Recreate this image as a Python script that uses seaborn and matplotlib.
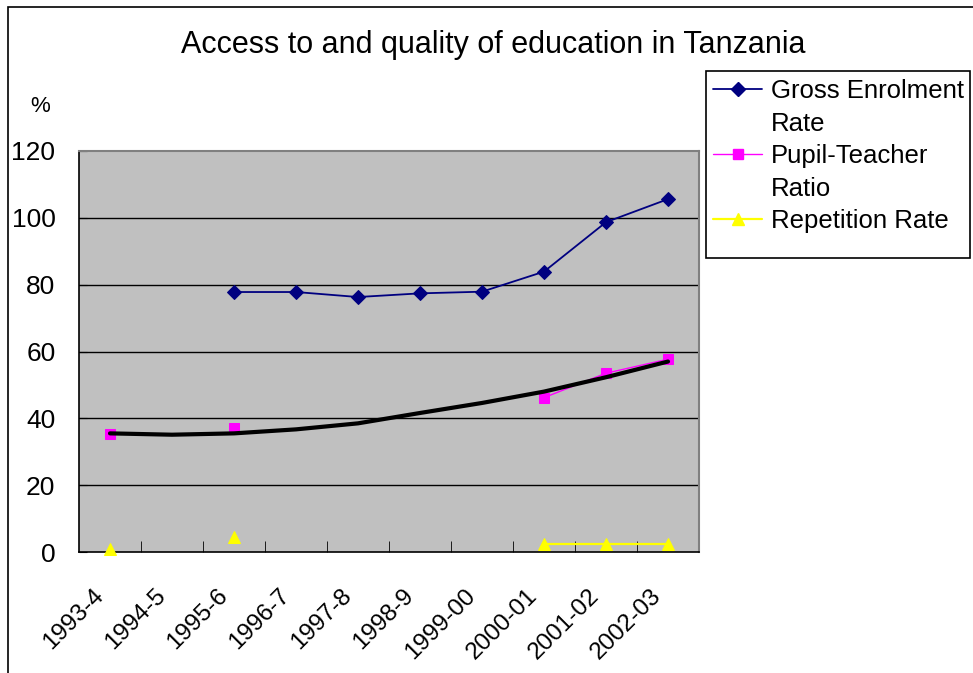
import numpy as np
import pandas as pd
import matplotlib
matplotlib.use("Agg")
import matplotlib.pyplot as plt
import matplotlib.transforms as mtransforms
from matplotlib.lines import Line2D
from matplotlib.patches import Rectangle
import seaborn as sns

# data
categories = ['1993-4', '1994-5', '1995-6', '1996-7', '1997-8',
              '1998-9', '1999-00', '2000-01', '2001-02', '2002-03']
gross_enrolment = [np.nan, np.nan, 77.8, 77.8, 76.3, 77.4, 77.9, 83.9, 98.7, 105.6]
pupil_teacher = [35.3, np.nan, 37.1, np.nan, np.nan, np.nan, np.nan, 46.2, 53.5, 57.7]
repetition = [1.0, np.nan, 4.5, np.nan, np.nan, np.nan, np.nan, 2.4, 2.4, 2.4]
ptr_trend = [35.5, 35.1, 35.5, 36.7, 38.5, 41.6, 44.6, 48.0, 52.3, 57.0]
y_ticks = [0, 20, 40, 60, 80, 100, 120]

sns.set_style("white")
plt.rcParams['font.family'] = ['Liberation Sans', 'DejaVu Sans']
plt.rcParams['text.color'] = 'black'
plt.rcParams['xtick.color'] = 'black'
plt.rcParams['ytick.color'] = 'black'


def to_segments(values):
    # split a series into runs of consecutive values so gaps stay gaps
    rows, seg = [], 0
    for i, v in enumerate(values):
        if np.isnan(v):
            seg += 1
            continue
        rows.append({'pos': i, 'val': v, 'seg': seg})
    return pd.DataFrame(rows)


fig = plt.figure(figsize=(9.73, 6.73), dpi=100)
ax = fig.add_axes([79 / 973, 121 / 673, 620 / 973, 401 / 673])
ax.set_facecolor('#C0C0C0')

styles = [
    (gross_enrolment, '#000080', 'D', 7.5, 1.3),
    (pupil_teacher, '#FF00FF', 's', 7.5, 1.0),
    (repetition, '#FFFF00', '^', 9, 1.6),
]
for vals, col, mk, ms, lw in styles:
    d = to_segments(vals)
    sns.lineplot(data=d, x='pos', y='val', units='seg', estimator=None,
                 color=col, marker=mk, markersize=ms, markeredgecolor=col,
                 linewidth=lw, clip_on=False, zorder=3, legend=False, ax=ax)

# trendline of the pupil-teacher ratio
sns.lineplot(x=list(range(len(categories))), y=ptr_trend, color='black',
             linewidth=3, zorder=4, legend=False, ax=ax)

ax.set_xlim(-0.5, len(categories) - 0.5)
ax.set_ylim(0, 120)
ax.set_xlabel('')
ax.set_ylabel('')

ax.set_yticks(y_ticks)
ax.set_yticklabels([str(t) for t in y_ticks], fontsize=19)
for t in y_ticks[1:-1]:
    ax.axhline(t, color='black', linewidth=1, zorder=1)
ax.tick_params(axis='y', direction='in', length=6, color='black', pad=17, left=True)

ax.set_xticks(range(len(categories)))
ax.set_xticklabels(categories, fontsize=17.5, rotation=45, ha='right',
                   va='center', rotation_mode='anchor')
ax.tick_params(axis='x', length=0, pad=29)
ax.set_xticks(np.arange(0.5, len(categories) - 1), minor=True)
ax.tick_params(axis='x', which='minor', direction='in', length=8,
               color='black', bottom=True)
shift = mtransforms.ScaledTranslation(-10 / 100, 0, fig.dpi_scale_trans)
for lab in ax.get_xticklabels():
    lab.set_transform(lab.get_transform() + shift)

for side in ['left', 'bottom']:
    ax.spines[side].set_color('black')
    ax.spines[side].set_linewidth(1.2)
for side in ['top', 'right']:
    ax.spines[side].set_color('#808080')
    ax.spines[side].set_linewidth(1.5)

# legend, with the second lines of labels as their own rows
blank = Line2D([], [], linestyle='none')
handles = [
    Line2D([], [], color='#000080', marker='D', markersize=7, linewidth=1.3),
    blank,
    Line2D([], [], color='#FF00FF', marker='s', markersize=7, linewidth=1.0),
    blank,
    Line2D([], [], color='#FFFF00', marker='^', markersize=9, linewidth=1.6),
]
labels = ['Gross Enrolment', 'Rate', 'Pupil-Teacher', 'Ratio', 'Repetition Rate']
fig.legend(handles, labels, loc='upper left',
           bbox_to_anchor=(708 / 973, 1 - 74 / 673), fontsize=18.5,
           frameon=False, handlelength=1.9, handletextpad=0.35,
           labelspacing=0.33, borderpad=0.2, borderaxespad=0)
# legend box drawn separately so it keeps the reference's size
fig.add_artist(Rectangle((706 / 973, 1 - 258 / 673), 264 / 973, 187 / 673,
                         transform=fig.transFigure, fill=False,
                         edgecolor='black', linewidth=1.2))

fig.text(493 / 973, 1 - 45 / 673, 'Access to and quality of education in Tanzania',
         fontsize=22, ha='center', va='center')
fig.text(40 / 973, 1 - 106 / 673, '%', fontsize=16, ha='center', va='center')

# outer chart border (left and top edges visible)
fig.add_artist(Rectangle((8 / 973, -0.1), 1.2, 1.1 - 7 / 673,
                         transform=fig.transFigure, fill=False,
                         edgecolor='black', linewidth=1.2))

plt.savefig("out.png", dpi=100)
plt.close()
